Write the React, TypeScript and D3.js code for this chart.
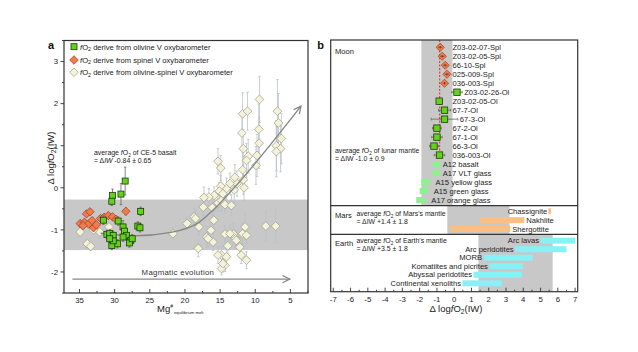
import * as d3 from "d3";

// ---------- panel a data: [Mg# equilibrium melt, ΔIW, ±err] ----------
const olivineV: [number, number, number][] = [
  [28.5, 0.16, 0.33], [30.3, -0.18, 0.15], [30.4, -0.32, 0.1], [29.1, -0.15, 0.25],
  [31.6, -0.77, 0.1], [29.5, -0.79, 0.1], [26.3, -0.56, 0.1], [26.7, -0.91, 0.1],
  [26.4, -0.95, 0.1], [31.1, -1.11, 0.1], [30.7, -1.09, 0.1], [30.2, -1.13, 0.1],
  [28.8, -0.93, 0.15], [28.6, -1.03, 0.1], [28.3, -1.13, 0.1], [27.7, -1.25, 0.1],
  [27.9, -1.31, 0.1], [29.6, -1.33, 0.1], [30.4, -1.37, 0.1], [30.2, -1.26, 0.1],
  [28.8, -1.17, 0.1], [27.5, -1.21, 0.1], [30.7, -1.21, 0.1],
];

const spinelV: [number, number, number][] = [
  [34.9, -0.85, 0.06], [34.3, -0.82, 0.06], [34.0, -0.62, 0.06], [33.5, -0.57, 0.06],
  [33.7, -0.86, 0.06], [33.2, -0.78, 0.06], [33.0, -0.95, 0.06], [32.6, -0.88, 0.06],
  [32.0, -0.73, 0.06], [31.5, -0.7, 0.06], [30.9, -0.66, 0.06], [30.3, -0.69, 0.06],
  [29.8, -0.75, 0.06], [28.4, -0.56, 0.08], [34.5, -0.9, 0.06],
];

const olSplV: [number, number, number][] = [
  // early, high Mg#
  [34.9, -1.05, 0.1], [33.9, -1.33, 0.1], [33.4, -1.39, 0.1], [32.1, -1.05, 0.15],
  [30.8, -0.93, 0.15], [33.0, -1.0, 0.1],
  // upper right
  [15.3, 0.63, 0.3], [14.9, 0.47, 0.3], [11.8, 1.76, 0.5], [11.1, 1.82, 0.45],
  [9.4, 2.1, 0.55], [11.9, 1.3, 0.4], [9.5, 1.39, 0.6], [9.45, 1.06, 0.6],
  [6.85, 1.82, 0.75], [6.7, 1.54, 0.7], [6.3, 1.17, 0.6], [7.0, 1.0, 0.6],
  [6.4, 0.93, 0.55], [7.0, 0.86, 0.6], [11.7, 0.93, 0.45], [9.75, 0.77, 0.5],
  [11.0, 0.75, 0.4], [11.25, 0.65, 0.4], [11.8, 0.43, 0.4], [9.9, 0.53, 0.45],
  [11.7, 0.19, 0.35], [11.6, 0.0, 0.3], [12.6, 0.1, 0.3],
  // middle cluster
  [13.6, 0.1, 0.25], [14.1, -0.02, 0.25], [14.9, 0.04, 0.25], [15.1, -0.08, 0.2],
  [15.85, -0.18, 0.2], [16.6, -0.22, 0.2], [17.3, -0.23, 0.25], [17.4, -0.46, 0.2],
  [16.1, -0.47, 0.2], [15.3, -0.36, 0.2], [14.8, -0.3, 0.25], [14.3, -0.4, 0.2],
  [13.4, -0.42, 0.25], [14.6, -0.14, 0.2], [13.0, -0.05, 0.3], [12.9, 0.25, 0.3],
  // lower cluster
  [18.7, -0.69, 0.2], [19.7, -0.85, 0.15], [18.0, -0.93, 0.2], [15.9, -0.77, 0.25],
  [16.3, -1.01, 0.2], [16.9, -1.17, 0.25], [16.0, -1.29, 0.2], [14.3, -1.1, 0.2],
  [13.1, -1.1, 0.25], [12.8, -1.21, 0.2], [11.8, -1.09, 0.25], [11.45, -0.93, 0.3],
  [13.9, -1.38, 0.2], [12.2, -1.41, 0.25], [11.25, -1.72, 0.2], [12.0, -1.6, 0.2],
  [14.8, -1.6, 0.2], [14.1, -1.64, 0.2], [14.3, -1.84, 0.15], [14.8, -1.92, 0.15],
  [18.1, -1.44, 0.2], [8.5, -0.91, 0.35], [7.1, -0.91, 0.4], [21.7, -1.09, 0.15],
  [18.5, -0.73, 0.2], [16.7, -1.21, 0.2], [13.6, -1.09, 0.2], [12.7, -1.25, 0.2],
  [11.25, -1.13, 0.2], [15.3, -1.6, 0.2], [14.6, -1.8, 0.2],
];

const trendPts: [number, number][] = [
  [32, -1.08], [27, -1.14], [22, -1.06], [18, -0.82], [15.5, -0.45], [13, 0.0], [3.5, 1.94],
];
const ce5Band = [-1.48, -0.28];
const yTicksA = [-2, -1, 0, 1, 2, 3];
const xTicksA = [35, 30, 25, 20, 15, 10, 5];

// ---------- panel b data ----------
const moonNames = [
  "Z03-02-07-Spl", "Z03-02-05-Spl", "66-10-Spl", "025-009-Spl", "036-003-Spl",
  "Z03-02-26-Ol", "Z03-02-05-Ol", "67-7-Ol", "67-3-Ol", "67-2-Ol", "67-1-Ol",
  "66-3-Ol", "036-003-Ol",
];
const moonFO2 = [-0.81, -0.69, -0.52, -0.42, -0.56, 0.16, -0.87, -0.56, -0.56, -1.0, -1.0, -1.17, -0.85];
const moonErr = [0.12, 0.12, 0.12, 0.12, 0.1, 0.3, 0.15, 0.35, 0.77, 0.25, 0.3, 0.25, 0.3];
const glassNames = ["A12 basalt", "A17 VLT glass", "A15 yellow glass", "A15 green glass", "A17 orange glass"];
const glassLo = [-1.23, -1.25, -1.9, -2.0, -2.2];
const glassHi = [-0.81, -0.81, -1.4, -1.5, -1.64];
const marsNames = ["Chassignite", "Nakhlite", "Shergottite"];
const marsLo = [5.45, 1.5, -0.23];
const marsHi = [5.6, 4.06, 3.24];
const earthNames = [
  "Arc lavas", "Arc peridotites", "MORB", "Komatiites and picrites",
  "Abyssal peridotites", "Continental xenoliths",
];
const earthLo = [5.0, 3.53, 1.7, 2.04, 1.12, 0.48];
const earthHi = [7.0, 6.5, 4.55, 3.97, 3.91, 2.76];
const moonBand = [-1.9, -0.1];
const marsBand = [-0.4, 3.2];
const earthBand = [1.4, 5.7];
const ce5Mean = -0.84;

const GREEN = "#62d31a";
const GREEN_S = "#1e3a06";
const ORANGE = "#ef7b4f";
const ORANGE_S = "#9a3c18";
const CREAM = "#f4f2da";
const CREAM_S = "#9c9c84";
const TXT = "#222";

const diamond = (cx: number, cy: number, r: number) =>
  `M${cx},${cy - r}L${cx + r},${cy}L${cx},${cy + r}L${cx - r},${cy}Z`;

// "fO2" with italic f and subscript 2, followed by the rest of the text
function FO2({ after }: { after: string }) {
  return (
    <>
      <tspan fontStyle="italic">f</tspan>
      <tspan>O</tspan>
      <tspan fontSize="0.7em" dy={1.6}>2</tspan>
      <tspan dy={-1.6}>{after}</tspan>
    </>
  );
}

export default function App() {
  // panel a scales
  const xA = d3.scaleLinear().domain([37.2, 2.5]).range([64, 308]);
  const yA = d3.scaleLinear().domain([-2.5, 3.5]).range([293, 40.5]);
  const trend = d3
    .line<[number, number]>()
    .x((d) => xA(d[0]))
    .y((d) => yA(d[1]))
    .curve(d3.curveMonotoneX)(trendPts) as string;

  // panel b scales
  const xB = d3.scaleLinear().domain([-7.15, 7.15]).range([330.7, 577.7]);
  const bTop = 40, bBot = 291.7, moonBot = 205.7, marsBot = 234.3;
  const yMoon = d3.scalePoint<string>().domain([...moonNames, ...glassNames]).range([47.3, 200]);
  const yMars = d3.scalePoint<string>().domain(marsNames).range([211.3, 229]);
  const yEarth = d3.scalePoint<string>().domain(earthNames).range([240.7, 283.3]);
  const barH = 6;

  const font = "Liberation Sans, Arial, sans-serif";
  const fs = 7.6;
  const fn = 6.9; // note text

  const errBar = (x: number, y1: number, y2: number, color: string, key: string, cap = 1.5) => (
    <g key={key} stroke={color} strokeWidth={0.8}>
      <line x1={x} x2={x} y1={y1} y2={y2} />
      <line x1={x - cap} x2={x + cap} y1={y1} y2={y1} />
      <line x1={x - cap} x2={x + cap} y1={y2} y2={y2} />
    </g>
  );

  return (
    <svg
      width={638}
      height={352}
      style={{ position: "absolute", left: 0, top: 0, background: "#fff" }}
      fontFamily={font}
    >
      <defs>
        <marker id="arr" viewBox="0 0 10 10" refX="9" refY="5" markerWidth="9" markerHeight="9" markerUnits="userSpaceOnUse" orient="auto">
          <path d="M1,1L9,5L1,9" fill="none" stroke="#888" strokeWidth={1.4} />
        </marker>
      </defs>

      {/* ================= panel a ================= */}
      <text x={51} y={49} fontSize={11} fontWeight="bold" textAnchor="middle" fill="#111">a</text>
      <rect x={64} y={yA(ce5Band[1])} width={244} height={yA(ce5Band[0]) - yA(ce5Band[1])} fill="#c8c8c8" />

      {/* magmatic evolution arrow */}
      <line x1={xA(36)} x2={xA(5.1)} y1={yA(-2.17)} y2={yA(-2.17)} stroke="#888" strokeWidth={1.3} markerEnd="url(#arr)" />
      <text x={xA(21)} y={yA(-2.17) - 4} fontSize={7.8} textAnchor="middle" fill="#333" letterSpacing={0.3}>Magmatic evolution</text>

      {/* ol-spl error bars and points */}
      {olSplV.map((d, i) => errBar(xA(d[0]), yA(d[1] + d[2]), yA(d[1] - d[2]), "#b9c1c9", `ose${i}`, 1.3))}
      {olSplV.map((d, i) => (
        <path key={`os${i}`} d={diamond(xA(d[0]), yA(d[1]), 4.4)} fill={CREAM} stroke={CREAM_S} strokeWidth={0.7} />
      ))}

      <path d={trend} fill="none" stroke="#888" strokeWidth={1.4} markerEnd="url(#arr)" />

      {spinelV.map((d, i) => errBar(xA(d[0]), yA(d[1] + d[2]), yA(d[1] - d[2]), "#777", `spe${i}`, 1.2))}
      {spinelV.map((d, i) => (
        <path key={`sp${i}`} d={diamond(xA(d[0]), yA(d[1]), 4.2)} fill={ORANGE} stroke={ORANGE_S} strokeWidth={0.7} />
      ))}
      {olivineV.map((d, i) => errBar(xA(d[0]), yA(d[1] + d[2]), yA(d[1] - d[2]), "#666", `ole${i}`, 1.2))}
      {olivineV.map((d, i) => (
        <rect key={`ol${i}`} x={xA(d[0]) - 3} y={yA(d[1]) - 3} width={6} height={6} fill={GREEN} stroke={GREEN_S} strokeWidth={0.8} />
      ))}

      {/* CE-5 annotation */}
      <text x={94} y={155} fontSize={fn} fill={TXT}>
        <tspan>average </tspan>
        <FO2 after=" of CE-5 basalt" />
      </text>
      <text x={94} y={163} fontSize={fn} fill={TXT}>= Δ<tspan fontStyle="italic">IW</tspan> -0.84 ± 0.65</text>

      {/* legend */}
      <rect x={71} y={43.7} width={6} height={6} fill={GREEN} stroke={GREEN_S} strokeWidth={0.8} />
      <path d={diamond(74, 60, 4.3)} fill={ORANGE} stroke={ORANGE_S} strokeWidth={0.7} />
      <path d={diamond(74, 72.3, 4.3)} fill={CREAM} stroke={CREAM_S} strokeWidth={0.7} />
      {[
        "derive from olivine V oxybarometer",
        "derive from spinel V oxybarometer",
        "derive from olivine-spinel V oxybarometer",
      ].map((t, i) => (
        <text key={t} x={80} y={[49.5, 62.8, 75.1][i]} fontSize={fs} fill={TXT}>
          <FO2 after={` ${t}`} />
        </text>
      ))}

      {/* frame + axes a */}
      <rect x={64} y={40.5} width={244} height={252.5} fill="none" stroke="#333" strokeWidth={1.2} />
      {d3.range(-2.5, 3.51, 0.5).map((v) => (
        <line key={`ya${v}`} x1={64} x2={Number.isInteger(v) ? 60.5 : 62} y1={yA(v)} y2={yA(v)} stroke="#333" strokeWidth={0.9} />
      ))}
      {yTicksA.map((v) => (
        <text key={`yl${v}`} x={58} y={yA(v) + 2.8} fontSize={7.8} textAnchor="end" fill={TXT}>{v}</text>
      ))}
      {d3.range(2.5, 37.1, 2.5).map((v) => (
        <line key={`xa${v}`} x1={xA(v)} x2={xA(v)} y1={293} y2={v % 5 === 0 ? 289 : 291} stroke="#333" strokeWidth={0.9} />
      ))}
      {xTicksA.map((v) => (
        <text key={`xl${v}`} x={xA(v)} y={302.5} fontSize={7.8} textAnchor="middle" fill={TXT}>{v}</text>
      ))}
      <text transform="translate(54,158) rotate(-90)" fontSize={9.5} textAnchor="middle" fill={TXT}>
        <tspan>Δ log</tspan>
        <FO2 after="(IW)" />
      </text>
      <text x={157} y={312} fontSize={9.5} fill={TXT}>
        <tspan>Mg</tspan>
        <tspan fontSize={5} dy={-4}>#</tspan>
        <tspan fontSize={4.2} dy={6} dx={1}>equilibrium melt</tspan>
      </text>

      {/* ================= panel b ================= */}
      <text x={320.7} y={49} fontSize={11} fontWeight="bold" textAnchor="middle" fill="#111">b</text>
      <rect x={xB(moonBand[0])} y={bTop} width={xB(moonBand[1]) - xB(moonBand[0])} height={moonBot - bTop} fill="#c8c8c8" />
      <rect x={xB(marsBand[0])} y={moonBot} width={xB(marsBand[1]) - xB(marsBand[0])} height={marsBot - moonBot} fill="#c8c8c8" />
      <rect x={xB(earthBand[0])} y={marsBot} width={xB(earthBand[1]) - xB(earthBand[0])} height={bBot - marsBot} fill="#c8c8c8" />

      <line x1={xB(ce5Mean)} x2={xB(ce5Mean)} y1={bTop} y2={yMoon("036-003-Ol")!} stroke="#e01b1b" strokeWidth={0.9} strokeDasharray="2,1.5" />

      {/* moon samples */}
      {moonNames.map((n, i) => {
        const y = yMoon(n)!;
        const x = xB(moonFO2[i]);
        const lo = xB(moonFO2[i] - moonErr[i]);
        const hi = xB(moonFO2[i] + moonErr[i]);
        const spl = n.endsWith("Spl");
        const lx = Math.max(xB(-0.1), hi + 2);
        return (
          <g key={n}>
            {!spl && (
              <g stroke="#666" strokeWidth={0.8}>
                <line x1={lo} x2={hi} y1={y} y2={y} />
                <line x1={lo} x2={lo} y1={y - 1.3} y2={y + 1.3} />
                <line x1={hi} x2={hi} y1={y - 1.3} y2={y + 1.3} />
              </g>
            )}
            {spl ? (
              <>
                <path d={diamond(x, y, 4.1)} fill={ORANGE} stroke={ORANGE_S} strokeWidth={0.7} />
                <g stroke="#5a2a10" strokeWidth={0.6}>
                  <line x1={lo} x2={hi} y1={y} y2={y} />
                  <line x1={x} x2={x} y1={y - 1.3} y2={y + 1.3} />
                </g>
              </>
            ) : (
              <rect x={x - 3.2} y={y - 3.2} width={6.4} height={6.4} fill={GREEN} stroke={GREEN_S} strokeWidth={0.8} />
            )}
            <text x={lx} y={y + 2.7} fontSize={fs} fill={TXT}>{n}</text>
          </g>
        );
      })}
      {glassNames.map((n, i) => {
        const y = yMoon(n)!;
        return (
          <g key={n}>
            <rect x={xB(glassLo[i])} y={y - barH / 2} width={xB(glassHi[i]) - xB(glassLo[i])} height={barH} fill="#8ef08e" />
            <text x={xB(glassHi[i]) + (i < 2 ? 2.5 : 5.5)} y={y + 2.7} fontSize={fs} fill={TXT}>{n}</text>
          </g>
        );
      })}
      <text x={335} y={54} fontSize={fs} fill={TXT}>Moon</text>
      <text x={335} y={153} fontSize={fn} fill={TXT}>
        <tspan>average </tspan>
        <FO2 after=" of lunar mantle" />
      </text>
      <text x={335} y={161} fontSize={fn} fill={TXT}>= ΔIW -1.0 ± 0.9</text>

      {/* mars */}
      {marsNames.map((n, i) => {
        const y = yMars(n)!;
        const left = n === "Chassignite";
        return (
          <g key={n}>
            <rect x={xB(marsLo[i])} y={y - barH / 2} width={xB(marsHi[i]) - xB(marsLo[i])} height={barH} fill="#fbbf86" />
            <text
              x={left ? xB(marsLo[i]) - 1 : xB(marsHi[i]) + 2}
              y={y + 2.7}
              fontSize={fs}
              textAnchor={left ? "end" : "start"}
              fill={TXT}
            >
              {n}
            </text>
          </g>
        );
      })}
      <text x={335} y={218.3} fontSize={fs} fill={TXT}>Mars</text>
      <text x={356.5} y={216} fontSize={fn} fill={TXT}>
        <tspan>average </tspan>
        <FO2 after=" of Mars's mantle" />
      </text>
      <text x={356.5} y={224} fontSize={fn} fill={TXT}>= ΔIW +1.4 ± 1.8</text>

      {/* earth */}
      {earthNames.map((n, i) => {
        const y = yEarth(n)!;
        return (
          <g key={n}>
            <rect x={xB(earthLo[i])} y={y - barH / 2} width={xB(earthHi[i]) - xB(earthLo[i])} height={barH} fill="#86f2f6" />
            <text x={xB(earthLo[i]) - 1.5} y={y + 2.7} fontSize={fs} textAnchor="end" fill={TXT}>{n}</text>
          </g>
        );
      })}
      <text x={335} y={246} fontSize={fs} fill={TXT}>Earth</text>
      <text x={356.5} y={243} fontSize={fn} fill={TXT}>
        <tspan>average </tspan>
        <FO2 after=" of Earth's mantle" />
      </text>
      <text x={356.5} y={251} fontSize={fn} fill={TXT}>= ΔIW +3.5 ± 1.8</text>

      {/* frame + axes b */}
      <line x1={330.7} x2={577.7} y1={moonBot} y2={moonBot} stroke="#333" strokeWidth={1.2} />
      <line x1={330.7} x2={577.7} y1={marsBot} y2={marsBot} stroke="#333" strokeWidth={1.2} />
      <rect x={330.7} y={bTop} width={247} height={bBot - bTop} fill="none" stroke="#333" strokeWidth={1.2} />
      {d3.range(-7, 7.01, 0.5).map((v) => (
        <line key={`xb${v}`} x1={xB(v)} x2={xB(v)} y1={bBot} y2={Number.isInteger(v) ? bBot - 4 : bBot - 2} stroke="#333" strokeWidth={0.9} />
      ))}
      {d3.range(-7, 8, 1).map((v) => (
        <text key={`xbl${v}`} x={xB(v)} y={301.5} fontSize={7.8} textAnchor="middle" fill={TXT}>{v}</text>
      ))}
      <text x={456} y={312} fontSize={9.5} textAnchor="middle" fill={TXT}>
        <tspan>Δ log</tspan>
        <FO2 after="(IW)" />
      </text>
    </svg>
  );
}
